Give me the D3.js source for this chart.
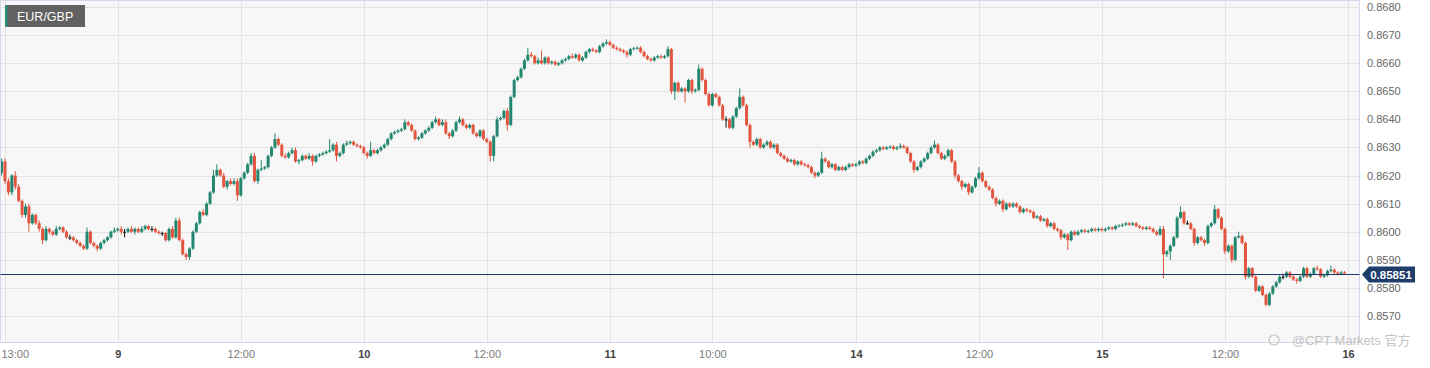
<!DOCTYPE html>
<html>
<head>
<meta charset="utf-8">
<script src="https://cdn.jsdelivr.net/npm/d3@7"></script>
<style>
  body { margin: 0; background: #fff; font-family: "Liberation Sans", Arial, "Noto Sans CJK SC", sans-serif; }
</style>
</head>
<body>
<div id="main"></div>
<script>
// EUR/GBP 20-minute candles, prices in pips (0.0001)
const symbol = 'EUR/GBP'
const firstOpen = 8621
const startHour = -1 / 3      // hours after 8th 13:00 (weekend removed)
const stepHour = 1 / 3

const closes = [
  8625, 8618, 8614, 8620, 8616, 8611, 8606, 8609, 8603, 8606,
  8603, 8601, 8597, 8601, 8600, 8599, 8601, 8601.5, 8600, 8598,
  8598, 8597, 8596, 8595, 8594, 8600, 8596, 8595, 8594, 8596,
  8597, 8598, 8600, 8600.5, 8601, 8600, 8600, 8601, 8600, 8601,
  8600, 8601, 8602, 8601, 8601, 8600, 8599.5, 8599.5, 8597, 8601,
  8598, 8604, 8597, 8592, 8591, 8594, 8600, 8603, 8607, 8606,
  8610, 8614, 8620, 8622, 8620, 8616, 8618, 8617, 8618, 8613,
  8619, 8621, 8624, 8627, 8618, 8622, 8622.5, 8623, 8627, 8630,
  8633, 8631, 8627, 8626.5, 8628, 8629, 8625, 8625.5, 8627, 8626,
  8627, 8625, 8627, 8627.5, 8628, 8628.5, 8629, 8631, 8627, 8628,
  8631, 8631.5, 8632, 8631, 8630.5, 8630, 8628, 8627, 8629, 8628,
  8629, 8630, 8631, 8633, 8635, 8635.5, 8636, 8636.5, 8639, 8638,
  8636, 8633, 8633.5, 8635, 8636, 8637, 8639, 8640, 8638, 8639,
  8635, 8634, 8636, 8639, 8640, 8638, 8637, 8638, 8635, 8634,
  8636, 8633, 8632, 8627, 8634, 8640, 8640.5, 8643, 8638, 8648,
  8654, 8655, 8658, 8661, 8663, 8662.5, 8660, 8661, 8660, 8662,
  8660, 8660.5, 8659.5, 8660, 8661, 8661.5, 8662.5, 8662, 8663, 8661,
  8662, 8664, 8665, 8664.5, 8664, 8666, 8667, 8667.5, 8666.5, 8665.5,
  8665, 8664.5, 8664, 8663, 8665, 8665.3, 8665.5, 8664, 8662.5, 8661.5,
  8661, 8662, 8662.5, 8662, 8662.5, 8665, 8650, 8653, 8650, 8651,
  8650, 8654, 8650, 8650.5, 8658, 8654, 8649, 8645, 8649, 8648,
  8645, 8640, 8640, 8637, 8641, 8644, 8648, 8645, 8638, 8632,
  8631, 8633, 8630, 8631, 8632, 8630, 8631, 8628, 8627, 8626,
  8625, 8625.5, 8624, 8625, 8624, 8623.7, 8623, 8621, 8620, 8621,
  8626, 8625, 8623, 8624, 8622, 8623, 8622, 8623, 8624, 8623.5,
  8624, 8625, 8624.5, 8626, 8627, 8628.5, 8629, 8630, 8629.5, 8630,
  8630.3, 8629.5, 8630, 8630.5, 8630, 8628, 8625, 8622, 8623, 8625,
  8626, 8628, 8630, 8631, 8628, 8626, 8627, 8629, 8625, 8620,
  8618, 8616, 8617, 8614, 8616, 8619, 8621, 8618, 8616, 8615,
  8612, 8610, 8611, 8608, 8610, 8609, 8610, 8609, 8607, 8608,
  8607.5, 8607, 8605, 8605.5, 8604, 8604.5, 8602, 8603, 8601, 8600.5,
  8598, 8599, 8597, 8600, 8599, 8600, 8600.5, 8600, 8600.3, 8601,
  8600.5, 8601, 8600.5, 8601, 8601.5, 8601, 8602, 8602.2, 8602.5, 8603,
  8602.5, 8603, 8602, 8601.5, 8601, 8601.5, 8601, 8600, 8599, 8601,
  8592, 8593, 8595, 8598, 8605, 8607, 8603, 8603, 8601, 8596,
  8598, 8597, 8596, 8602, 8603, 8608, 8605, 8601, 8593, 8595,
  8590, 8598, 8598.5, 8596, 8584, 8587, 8584, 8579, 8580.5, 8577.5,
  8574, 8578, 8580.5, 8582, 8584, 8584, 8585.5, 8584, 8583, 8582.5,
  8584, 8587, 8584, 8585, 8587, 8586.6, 8584, 8584.5, 8586, 8586.5,
  8585.5, 8585, 8585.5, 8585.1
]

const wickUp = [
  1, 1, 1, 0.5, 1.5, 1, 0.5, 1, 1, 0.5,
  0.5, 1, 0.5, 1, 0.5, 0.5, 1, 0.5, 0.5, 0.5,
  1, 0.5, 0.5, 0.5, 0.5, 1.5, 0.5, 0.5, 0.5, 0.5,
  0.5, 0.5, 0.5, 1, 0.5, 1, 1, 0.5, 1, 0.5,
  0.5, 1, 0.5, 0.5, 1, 0.5, 0.5, 0.5, 0.5, 0.5,
  1, 1, 1, 0.5, 0.5, 0.5, 0.5, 0.5, 0.5, 1,
  0.5, 0.5, 2, 2, 0.5, 1, 0.5, 1, 1, 1,
  0.5, 0.5, 0.5, 1, 1, 0.5, 3, 0.5, 0.5, 0.5,
  2, 0.5, 0.5, 1, 0.5, 1, 1, 0.5, 0.5, 0.5,
  1, 0.5, 0.5, 0.5, 0.5, 0.5, 4, 0.5, 1, 0.5,
  0.5, 1, 0.5, 0.5, 0.5, 0.5, 0.5, 0.5, 3, 0.5,
  0.5, 0.5, 0.5, 0.5, 0.5, 0.5, 0.5, 0.5, 1, 0.5,
  0.5, 0.5, 0.5, 0.5, 0.5, 0.5, 0.5, 1, 0.5, 1,
  1, 0.5, 0.5, 0.5, 1, 0.5, 0.5, 0.5, 0.5, 0.5,
  0.5, 0.5, 0.5, 0.5, 0.5, 1, 0.5, 0.5, 1, 0.5,
  0.5, 0.5, 0.5, 0.5, 2.5, 1, 0.5, 1, 3.5, 0.5,
  0.5, 0.5, 0.5, 0.5, 0.5, 0.5, 0.5, 1, 0.5, 0.5,
  0.5, 0.5, 0.5, 0.5, 0.5, 0.5, 0.5, 1, 0.5, 0.5,
  0.5, 0.5, 0.5, 0.5, 0.5, 0.5, 0.5, 0.5, 0.5, 0.5,
  0.5, 0.5, 0.5, 0.5, 0.5, 1, 0.5, 0.5, 0.5, 0.5,
  0.5, 0.5, 0.5, 0.5, 1.5, 0.5, 0.5, 0.5, 0.5, 0.5,
  0.5, 0.5, 1, 0.5, 0.5, 0.5, 3, 0.5, 0.5, 0.5,
  0.5, 0.5, 0.5, 0.5, 0.5, 0.5, 0.5, 0.5, 0.5, 0.5,
  0.5, 0.5, 0.5, 0.5, 0.5, 0.5, 0.5, 0.5, 0.5, 0.5,
  2.5, 0.5, 0.5, 0.5, 0.5, 0.5, 0.5, 0.5, 0.5, 0.5,
  0.5, 0.5, 0.5, 0.5, 0.5, 0.5, 0.5, 0.5, 0.5, 0.5,
  0.5, 0.5, 0.5, 1, 0.5, 0.5, 0.5, 0.5, 0.5, 0.5,
  0.5, 0.5, 0.5, 1.5, 0.5, 0.5, 0.5, 0.5, 0.5, 0.5,
  0.5, 0.5, 0.5, 0.5, 0.5, 0.5, 2, 0.5, 0.5, 0.5,
  0.5, 0.5, 0.5, 0.5, 0.5, 0.5, 0.5, 0.5, 0.5, 0.5,
  0.5, 0.5, 0.5, 0.5, 0.5, 0.5, 0.5, 0.5, 0.5, 0.5,
  0.5, 0.5, 0.5, 0.5, 0.5, 0.5, 0.5, 0.5, 0.5, 0.5,
  0.5, 0.5, 0.5, 0.5, 0.5, 0.5, 0.5, 0.5, 0.5, 0.5,
  0.5, 0.5, 0.5, 0.5, 0.5, 0.5, 0.5, 0.5, 0.5, 1,
  1, 0.5, 0.5, 0.5, 0.5, 2, 0.5, 1, 0.5, 0.5,
  0.5, 0.5, 0.5, 0.5, 0.5, 1.5, 0.5, 0.5, 0.5, 0.5,
  0.5, 0.5, 1.5, 0.5, 0.5, 0.5, 0.5, 0.5, 0.5, 0.5,
  0.5, 0.5, 0.5, 0.5, 0.5, 1, 0.5, 0.5, 0.5, 0.5,
  0.5, 0.5, 0.5, 0.5, 0.5, 1, 0.5, 0.5, 0.5, 1.5,
  0.5, 0.5, 0.5, 0.5
]

const wickDn = [
  1, 1, 1, 1, 1, 0.5, 1, 1, 3, 0.5,
  0.5, 1, 1.5, 0.5, 1, 0.5, 0.5, 0.5, 0.5, 0.5,
  1, 0.5, 0.5, 0.5, 0.5, 0.5, 0.5, 0.5, 1, 0.5,
  0.5, 0.5, 0.5, 0.5, 0.5, 1, 2, 0.5, 0.5, 1,
  0.5, 0.5, 0.5, 0.5, 1, 0.5, 0.5, 1, 0.5, 0.5,
  0.5, 0.5, 0.5, 0.5, 1, 1, 0.5, 0.5, 0.5, 0.5,
  0.5, 0.5, 0.5, 0.5, 0.5, 0.5, 1, 0.5, 0.5, 2,
  0.5, 0.5, 0.5, 0.5, 0.5, 1, 0.5, 0.5, 0.5, 0.5,
  0.5, 0.5, 0.5, 0.5, 0.5, 0.5, 0.5, 1, 0.5, 0.5,
  0.5, 1.5, 0.5, 0.5, 0.5, 0.5, 0.5, 0.5, 2, 0.5,
  0.5, 0.5, 0.5, 0.5, 0.5, 0.5, 0.5, 1, 0.5, 0.5,
  0.5, 0.5, 0.5, 0.5, 0.5, 0.5, 0.5, 0.5, 0.5, 0.5,
  0.5, 0.5, 0.5, 0.5, 0.5, 0.5, 0.5, 0.5, 0.5, 0.5,
  0.5, 1, 0.5, 0.5, 0.5, 0.5, 0.5, 0.5, 0.5, 0.5,
  0.5, 0.5, 0.5, 2, 2, 0.5, 0.5, 0.5, 2, 0.5,
  0.5, 0.5, 0.5, 0.5, 0.5, 0.5, 0.5, 0.5, 0.5, 0.5,
  0.5, 0.5, 0.5, 0.5, 0.5, 0.5, 0.5, 0.5, 0.5, 0.5,
  0.5, 0.5, 0.5, 0.5, 0.5, 0.5, 0.5, 0.5, 0.5, 0.5,
  0.5, 0.5, 0.5, 1, 0.5, 0.5, 0.5, 0.5, 0.5, 0.5,
  0.5, 0.5, 0.5, 0.5, 0.5, 0.5, 1, 3, 0.5, 0.5,
  4, 0.5, 1, 0.5, 0.5, 0.5, 0.5, 0.5, 0.5, 0.5,
  0.5, 0.5, 3, 0.5, 0.5, 0.5, 0.5, 0.5, 0.5, 2,
  0.5, 0.5, 0.5, 0.5, 0.5, 0.5, 0.5, 0.5, 0.5, 0.5,
  0.5, 0.5, 0.5, 0.5, 0.5, 0.5, 0.5, 0.5, 1, 0.5,
  0.5, 0.5, 0.5, 0.5, 0.5, 0.5, 0.5, 0.5, 0.5, 0.5,
  0.5, 0.5, 0.5, 0.5, 0.5, 0.5, 0.5, 0.5, 0.5, 0.5,
  0.5, 0.5, 0.5, 0.5, 0.5, 0.5, 0.5, 1, 0.5, 0.5,
  0.5, 0.5, 0.5, 0.5, 0.5, 0.5, 0.5, 0.5, 0.5, 1,
  0.5, 1, 0.5, 1, 0.5, 0.5, 0.5, 0.5, 0.5, 0.5,
  0.5, 1, 0.5, 1, 0.5, 0.5, 0.5, 0.5, 0.5, 0.5,
  0.5, 0.5, 0.5, 0.5, 0.5, 0.5, 0.5, 0.5, 0.5, 0.5,
  1, 0.5, 3.5, 0.5, 0.5, 0.5, 0.5, 0.5, 0.5, 0.5,
  0.5, 0.5, 0.5, 0.5, 0.5, 0.5, 0.5, 0.5, 0.5, 0.5,
  0.5, 0.5, 0.5, 0.5, 0.5, 0.5, 0.5, 0.5, 0.5, 0.5,
  8.5, 1, 3, 0.5, 0.5, 0.5, 0.5, 0.5, 0.5, 1,
  0.5, 0.5, 1, 0.5, 0.5, 0.5, 0.5, 0.5, 1, 0.5,
  1, 0.5, 0.5, 0.5, 1, 0.5, 0.5, 0.5, 0.5, 0.5,
  0.5, 0.5, 0.5, 0.5, 0.5, 1, 0.5, 0.5, 0.5, 1,
  0.5, 0.5, 0.5, 0.5, 0.5, 0.5, 0.5, 0.5, 0.5, 0.5,
  0.5, 0.5, 0.5, 0.5
]

const yTicks = [0.8570, 0.8580, 0.8590, 0.8600, 0.8610, 0.8620, 0.8630, 0.8640, 0.8650, 0.8660, 0.8670, 0.8680]
const xTickHours = [0, 11, 23, 35, 47, 59, 69, 83, 95, 107, 119, 131]
const xTickLabels = ['13:00', '9', '12:00', '10', '12:00', '11', '10:00', '14', '12:00', '15', '12:00', '16']
const lastPrice = 0.85851
const watermark = '@CPT Markets 官方'

/// build candles ///
const candles = closes.map((c, i) => {
    const o = i === 0 ? firstOpen : closes[i - 1]
    return {
        t: startHour + i * stepHour,
        o: o / 10000,
        c: c / 10000,
        h: (Math.max(o, c) + wickUp[i]) / 10000,
        l: (Math.min(o, c) - wickDn[i]) / 10000
    }
})

// specs of svg frame //
const w = 1430
const h = 368
const plotL = 0.5, plotR = 1359.5, plotT = 0.5, plotB = 342.5

const svg = d3.select('#main')
        .append('svg')
        .attr('width', w)
        .attr('height', h)

const xScale = d3.scaleLinear()
        .domain([0, 131])
        .range([5, 1348])

const yScale = d3.scaleLinear()
        .domain([0.8570, 0.8680])
        .range([316, 7])

// plot background
svg.append('rect')
    .attr('x', plotL).attr('y', plotT)
    .attr('width', plotR - plotL).attr('height', plotB - plotT)
    .attr('fill', '#f7f7f7')

// grid
svg.append('g')
    .selectAll('line')
    .data(yTicks)
    .enter()
    .append('line')
    .attr('x1', plotL).attr('x2', plotR)
    .attr('y1', d => Math.round(yScale(d)) + 0.5)
    .attr('y2', d => Math.round(yScale(d)) + 0.5)
    .attr('stroke', '#e3e3e3')

svg.append('g')
    .selectAll('line')
    .data(xTickHours)
    .enter()
    .append('line')
    .attr('y1', plotT).attr('y2', plotB)
    .attr('x1', d => Math.round(xScale(d)) + 0.5)
    .attr('x2', d => Math.round(xScale(d)) + 0.5)
    .attr('stroke', '#e3e3e3')

// title tag
svg.append('rect')
    .attr('x', 5).attr('y', 5).attr('width', 80).attr('height', 22)
    .attr('fill', '#616161')
svg.append('rect')
    .attr('x', 5).attr('y', 5).attr('width', 2.5).attr('height', 22)
    .attr('fill', '#2e8b74')
svg.append('text')
    .attr('x', 17).attr('y', 20.5)
    .attr('fill', '#fff')
    .style('font-size', '12.5px')
    .text(symbol)

// candles
const upColor = '#238770'
const downColor = '#e2553f'
const candleColor = d => d.c > d.o ? upColor : (d.c < d.o ? downColor : '#111')

const cg = svg.append('g')

cg.selectAll('line')
    .data(candles)
    .enter()
    .append('line')
    .attr('x1', d => xScale(d.t))
    .attr('x2', d => xScale(d.t))
    .attr('y1', d => yScale(d.h))
    .attr('y2', d => yScale(d.l))
    .attr('stroke', candleColor)
    .attr('stroke-width', 1)

const bodyW = 3
cg.selectAll('rect')
    .data(candles)
    .enter()
    .append('rect')
    .attr('x', d => xScale(d.t) - bodyW / 2)
    .attr('width', bodyW)
    .attr('y', d => yScale(Math.max(d.o, d.c)))
    .attr('height', d => Math.max(1, Math.abs(yScale(d.o) - yScale(d.c))))
    .attr('fill', candleColor)

// frame
svg.append('rect')
    .attr('x', plotL).attr('y', plotT)
    .attr('width', plotR - plotL).attr('height', plotB - plotT)
    .attr('fill', 'none')
    .attr('stroke', '#d2d7ec')

// y axis
const yAxis = d3.axisRight(yScale)
        .tickValues(yTicks)
        .tickFormat(d3.format('.4f'))
        .tickSize(0)
        .tickPadding(7.5)

const yg = svg.append('g')
    .attr('transform', 'translate(' + plotR + ',0)')
    .call(yAxis)
yg.select('.domain').remove()
yg.selectAll('text')
    .attr('fill', '#666')
    .style('font-size', '11px')
    .style('font-family', '"Liberation Sans", Arial, sans-serif')

// x axis
const xAxis = d3.axisBottom(xScale)
        .tickValues(xTickHours)
        .tickFormat((d, i) => xTickLabels[i])
        .tickSize(0)
        .tickPadding(8)

const xg = svg.append('g')
    .attr('transform', 'translate(0,' + plotB + ')')
    .call(xAxis)
xg.select('.domain').remove()
xg.selectAll('text')
    .attr('fill', (d, i) => xTickLabels[i].includes(':') ? '#7a7a7a' : '#444')
    .style('font-weight', (d, i) => xTickLabels[i].includes(':') ? 'normal' : 'bold')
    .style('font-size', '11px')
    .style('font-family', '"Liberation Sans", Arial, sans-serif')
xg.selectAll('text')
    .filter((d, i) => i === 0)
    .attr('text-anchor', 'start')
    .attr('x', -4)

// watermark
svg.append('circle')
    .attr('cx', 1274).attr('cy', 340).attr('r', 5)
    .attr('fill', 'none').attr('stroke', '#c4c4c4').attr('stroke-width', 1.2)
svg.append('text')
    .attr('x', 1292).attr('y', 345)
    .attr('fill', '#c4c4c4')
    .style('font-size', '13px')
    .style('font-family', '"Liberation Sans", Arial, "Noto Sans CJK SC", sans-serif')
    .text(watermark)

// last price line + tag
const ly = Math.round(yScale(lastPrice)) + 0.5
svg.append('line')
    .attr('x1', plotL).attr('x2', plotR)
    .attr('y1', ly).attr('y2', ly)
    .attr('stroke', '#1d3a66')

svg.append('path')
    .attr('d', 'M1362,' + ly + ' L1369,' + (ly - 8) + ' L1415,' + (ly - 8) +
        ' L1415,' + (ly + 8) + ' L1369,' + (ly + 8) + ' Z')
    .attr('fill', '#1f3d6b')
svg.append('text')
    .attr('x', 1391).attr('y', ly + 4)
    .attr('text-anchor', 'middle')
    .attr('fill', '#fff')
    .style('font-size', '11.5px')
    .style('font-weight', 'bold')
    .text(d3.format('.5f')(lastPrice))
</script>
</body>
</html>
